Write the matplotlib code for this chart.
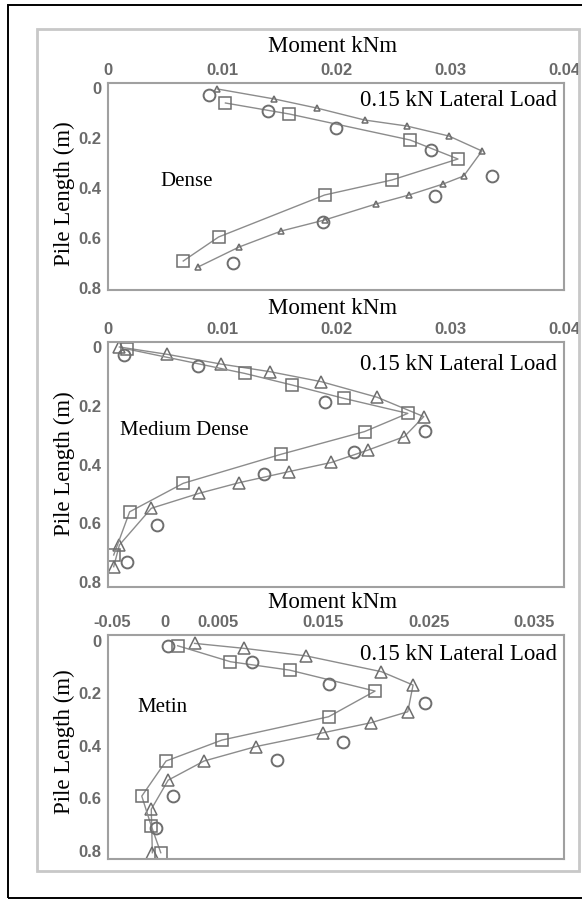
import matplotlib.pyplot as plt
from matplotlib.patches import Rectangle

# moment (kNm) vs depth along pile (m)
dense_tri_m = [0.0096, 0.0146, 0.0183, 0.0225, 0.0262, 0.0299, 0.0328, 0.0312, 0.0294, 0.0264, 0.0235, 0.0190, 0.0152, 0.0115, 0.0079]
dense_tri_z = [0.004, 0.044, 0.080, 0.128, 0.152, 0.192, 0.252, 0.352, 0.384, 0.428, 0.464, 0.528, 0.572, 0.636, 0.716]
dense_sq_m = [0.0103, 0.0159, 0.0265, 0.0307, 0.0249, 0.0190, 0.0097, 0.0066]
dense_sq_z = [0.060, 0.104, 0.208, 0.284, 0.368, 0.428, 0.596, 0.692]
dense_circ_m = [0.0089, 0.0140, 0.0200, 0.0283, 0.0337, 0.0287, 0.0189, 0.0110]
dense_circ_z = [0.028, 0.092, 0.160, 0.248, 0.352, 0.432, 0.536, 0.700]

med_tri_m = [0.0010, 0.0052, 0.0099, 0.0142, 0.0187, 0.0236, 0.0277, 0.0260, 0.0228, 0.0196, 0.0159, 0.0115, 0.0080, 0.0038, 0.0010, 0.0005]
med_tri_z = [0.000, 0.025, 0.058, 0.084, 0.118, 0.171, 0.237, 0.305, 0.351, 0.393, 0.424, 0.462, 0.498, 0.549, 0.674, 0.748]
med_sq_m = [0.0017, 0.0120, 0.0161, 0.0207, 0.0263, 0.0225, 0.0152, 0.0066, 0.0019, 0.0005]
med_sq_z = [0.007, 0.090, 0.129, 0.175, 0.226, 0.288, 0.365, 0.464, 0.561, 0.708]
med_circ_m = [0.0014, 0.0079, 0.0190, 0.0278, 0.0216, 0.0137, 0.0043, 0.0017]
med_circ_z = [0.027, 0.065, 0.186, 0.285, 0.356, 0.433, 0.606, 0.733]

metin_tri_m = [0.0028, 0.0075, 0.0134, 0.0205, 0.0235, 0.0230, 0.0195, 0.0150, 0.0086, 0.0037, 0.0003, -0.0013, -0.0012]
metin_tri_z = [0.009, 0.028, 0.057, 0.117, 0.168, 0.270, 0.312, 0.350, 0.403, 0.458, 0.531, 0.642, 0.808]
metin_sq_m = [0.0012, 0.0062, 0.0118, 0.0199, 0.0155, 0.0054, 0.0001, -0.0022, -0.0013, -0.0004]
metin_sq_z = [0.018, 0.079, 0.111, 0.191, 0.289, 0.378, 0.458, 0.592, 0.706, 0.808]
metin_circ_m = [0.0003, 0.0082, 0.0155, 0.0246, 0.0169, 0.0106, 0.0008, -0.0009]
metin_circ_z = [0.018, 0.079, 0.165, 0.235, 0.387, 0.454, 0.592, 0.715]

top_ticks = [0, 0.01, 0.02, 0.03, 0.04]
top_labels = ['0', '0.01', '0.02', '0.03', '0.04']
metin_ticks = [-0.005, 0, 0.005, 0.015, 0.025, 0.035]
metin_labels = ['-0.05', '0', '0.005', '0.015', '0.025', '0.035']
depth_ticks = [0, 0.2, 0.4, 0.6, 0.8]
depth_labels = ['0', '0.2', '0.4', '0.6', '0.8']

W, H = 582, 900
fig = plt.figure(figsize=(W / 100, H / 100), dpi=100)

# outer black frame and inner grey frame
fig.patches.append(Rectangle((8 / W, 1 - 898 / H), 1.0, (898 - 5) / H, transform=fig.transFigure,
                             fill=False, edgecolor='black', linewidth=1.4, clip_on=False))
fig.patches.append(Rectangle((37 / W, 1 - 871 / H), (579 - 37) / W, (871 - 29) / H, transform=fig.transFigure,
                             fill=False, edgecolor='#c8c8c8', linewidth=2.0))

serif = 'Liberation Serif'
line_c = '#8c8c8c'
mark_c = '#6e6e6e'

# panel box in pixels: top, bottom; plus limits and texts
panels = [
    dict(top=83, bottom=290, ylim=(0.808, -0.020), xlim=(0, 0.04), ticks=top_ticks, labels=top_labels,
         tri=(dense_tri_m, dense_tri_z), sq=(dense_sq_m, dense_sq_z), circ=(dense_circ_m, dense_circ_z),
         tri_size=4.5, name='Dense', name_xy=(160, 181), title_y=46, ylab_y=194, load_y=100),
    dict(top=342, bottom=587, ylim=(0.817, -0.017), xlim=(0, 0.04), ticks=top_ticks, labels=top_labels,
         tri=(med_tri_m, med_tri_z), sq=(med_sq_m, med_sq_z), circ=(med_circ_m, med_circ_z),
         tri_size=9, name='Medium Dense', name_xy=(120, 430), title_y=308, ylab_y=464, load_y=365),
    dict(top=635, bottom=859, ylim=(0.832, -0.023), xlim=(-0.0054, 0.0378), ticks=metin_ticks, labels=metin_labels,
         tri=(metin_tri_m, metin_tri_z), sq=(metin_sq_m, metin_sq_z), circ=(metin_circ_m, metin_circ_z),
         tri_size=9, name='Metin', name_xy=(137, 707), title_y=603, ylab_y=742, load_y=654),
]

for p in panels:
    ax = fig.add_axes([108 / W, 1 - p['bottom'] / H, (564 - 108) / W, (p['bottom'] - p['top']) / H])
    ax.set_xlim(*p['xlim'])
    ax.set_ylim(*p['ylim'])

    ax.plot(*p['tri'], color=line_c, linewidth=1.0, marker='^', markersize=p['tri_size'],
            markerfacecolor='none', markeredgecolor=mark_c, markeredgewidth=1.1)
    ax.plot(*p['sq'], color=line_c, linewidth=1.0, marker='s', markersize=8.5,
            markerfacecolor='none', markeredgecolor=mark_c, markeredgewidth=1.1)
    ax.plot(*p['circ'], linestyle='none', marker='o', markersize=8.5,
            markerfacecolor='none', markeredgecolor=mark_c, markeredgewidth=1.4)

    ax.xaxis.tick_top()
    ax.set_xticks(p['ticks'])
    ax.set_xticklabels(p['labels'])
    ax.set_yticks(depth_ticks)
    ax.set_yticklabels(depth_labels)
    ax.tick_params(length=0, labelsize=12, labelcolor='#6a6a6a')
    ax.tick_params(axis='x', pad=3.5)
    ax.tick_params(axis='y', pad=5)
    for lab in ax.get_xticklabels() + ax.get_yticklabels():
        lab.set_family('Liberation Sans')
        lab.set_fontweight('bold')
    for s in ax.spines.values():
        s.set_color('#a0a0a0')
        s.set_linewidth(1.5)

    fig.text(333 / W, 1 - p['title_y'] / H, 'Moment kNm', family=serif, fontsize=16.5,
             ha='center', va='center')
    fig.text(64 / W, 1 - p['ylab_y'] / H, 'Pile Length (m)', family=serif, fontsize=16.5,
             rotation=90, ha='center', va='center')
    fig.text(557 / W, 1 - p['load_y'] / H, '0.15 kN Lateral Load', family=serif, fontsize=16.5,
             ha='right', va='center')
    fig.text(p['name_xy'][0] / W, 1 - p['name_xy'][1] / H, p['name'], family=serif, fontsize=15,
             ha='left', va='center')

fig.savefig('out.png', dpi=100)
